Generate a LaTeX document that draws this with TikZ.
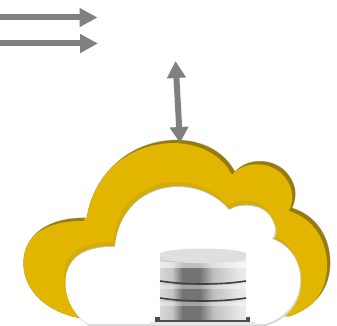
\documentclass[tikz,border=0pt]{standalone}
\usepackage{xcolor}
\usepackage{tikz}
\usetikzlibrary{arrows.meta}
\definecolor{cloudgold}{RGB}{226,182,0}
\definecolor{cloudband}{RGB}{214,172,4}
\definecolor{cloudedge}{RGB}{150,122,10}
\definecolor{arrowgray}{RGB}{128,128,128}
\pgfdeclarehorizontalshading{diskshade}{100bp}{
  color(0bp)=(gray!60); color(6bp)=(gray!40); color(22bp)=(gray!25); color(32bp)=(gray!45);
  color(38bp)=(black!55); color(48bp)=(black!55); color(56bp)=(gray!50); color(70bp)=(gray!20);
  color(90bp)=(white); color(100bp)=(gray!30)}
\tikzstyle{arrow} = [line width=6pt,arrowgray,-{Triangle[length=18pt,width=18pt]}]
\tikzstyle{biarrow} = [line width=6pt,arrowgray,{Triangle[length=17pt,width=18pt]}-{Triangle[length=16pt,width=18pt]}]
\tikzstyle{disk} = [shading=diskshade]
\tikzstyle{diskgap} = [draw=black!75,line width=1.6pt]
\newcommand{\cloudouter}{(23.5,263) .. controls (24,235) and (48,217) .. (87,218)
  .. controls (92,180) and (125,140) .. (178,140)
  .. controls (205,141) and (225,153) .. (235,172)
  .. controls (247,158) and (270,158) .. (284,170)
  .. controls (296,182) and (298,195) .. (292,208)
  .. controls (318,216) and (331,240) .. (330,265)
  .. controls (329,292) and (312,308) .. (290,316)
  -- (80,318) .. controls (48,312) and (24,292) .. (23.5,263) -- cycle}
\newcommand{\cloudinner}{(65.5,282) .. controls (66,258) and (85,246) .. (115,247)
  .. controls (118,210) and (145,187) .. (178,187)
  .. controls (200,187) and (218,197) .. (229,210)
  .. controls (240,203) and (262,204) .. (270,216)
  .. controls (277,227) and (276,232) .. (272,239)
  .. controls (290,245) and (301,262) .. (300,280)
  .. controls (300,302) and (285,318) .. (265,324)
  -- (88,324) .. controls (75,315) and (65,300) .. (65.5,282) -- cycle}
\begin{document}
\begin{tikzpicture}[x=1pt,y=-1pt]
	\useasboundingbox (0,0) rectangle (337,326);

	\coordinate (inA) at (-1,17.5);
	\coordinate (inAend) at (97.5,17.5);
	\coordinate (inB) at (-1,43.5);
	\coordinate (inBend) at (98,43.5);
	\coordinate (linkTop) at (175.5,61);
	\coordinate (linkBot) at (180,143);

	% cloud
	\draw [gray!35,line width=1pt] \cloudouter;
	\fill [cloudedge] \cloudouter;
	\begin{scope}
		\clip \cloudouter;
		\fill [cloudgold] [shift={(-3,3)}] \cloudouter;
		\fill [cloudband] [shift={(-2,-5)}] \cloudinner;
	\end{scope}
	\fill [gray!30] [shift={(1,2)}] \cloudinner;
	\fill [gray!50] [shift={(0,-1)}] \cloudinner;
	\fill [white] \cloudinner;

	% database
	\fill [black!70] (155,317) rectangle (250,322);
	\fill [gray!20] (150,322) rectangle (255,325);
	\shade [disk] (160,258) rectangle (246,319);
	\fill [white,opacity=0.55] (160,262) rectangle (246,268);
	\fill [white,opacity=0.35] (160,285) rectangle (246,289);
	\fill [white,opacity=0.35] (160,302) rectangle (246,306);
	\draw [diskgap] (160,281) .. controls (185,285) and (221,285) .. (246,281);
	\draw [diskgap] (160,298) .. controls (185,302) and (221,302) .. (246,298);
	\fill [gray!25] (160,253) .. controls (175,247) and (231,247) .. (246,253) -- (246,258)
		.. controls (231,265) and (175,265) .. (160,258) -- cycle;

	% arrows
	\draw [biarrow] (linkTop) -- (linkBot);
	\draw [arrow] (inA) -- (inAend);
	\draw [arrow] (inB) -- (inBend);

\end{tikzpicture}
\end{document}
